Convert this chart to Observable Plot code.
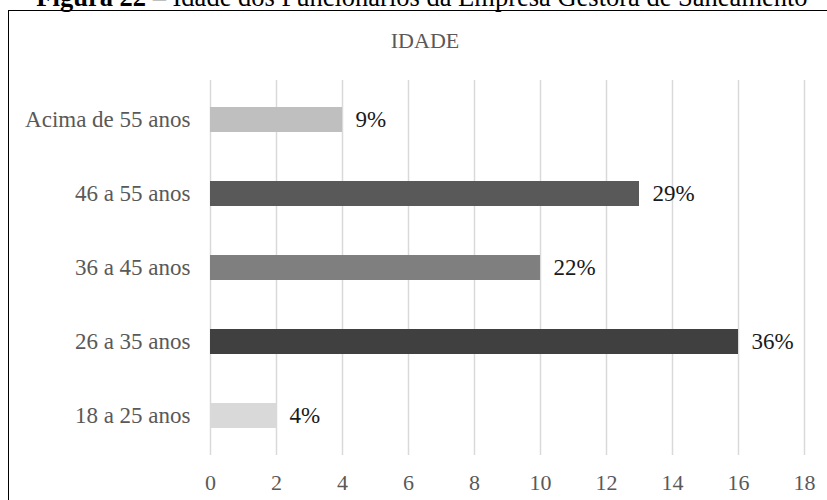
<!DOCTYPE html>
<html>
<head>
<meta charset="utf-8">
<script src="https://cdn.jsdelivr.net/npm/d3@7"></script>
<script src="https://cdn.jsdelivr.net/npm/@observablehq/plot@0.6"></script>
<style>
  html, body { margin: 0; padding: 0; background: #fff; }
  #page { position: relative; width: 827px; height: 500px; overflow: hidden; background: #fff; }
  #caption {
    position: absolute; left: 0; width: 844px; top: -16.5px; text-align: center;
    font-family: "Liberation Serif", "Times New Roman", serif; font-size: 26.5px; line-height: 26.5px;
    color: #000; white-space: nowrap;
  }
  #box {
    position: absolute; left: 8px; top: 10px; width: 900px; height: 600px;
    border: 1.75px solid #000; box-sizing: border-box;
  }
  #title {
    position: absolute; left: 0; width: 850px; top: 30px; text-align: center;
    font-family: "Liberation Serif", "Times New Roman", serif; font-size: 22px; line-height: 22px;
    color: #595959;
  }
  #chart { position: absolute; left: 0; top: 0; }
</style>
</head>
<body>
<div id="page">
  <div id="caption"><b>Figura 22</b> – Idade dos Funcionários da Empresa Gestora de Saneamento</div>
  <div id="box"></div>
  <div id="title">IDADE</div>
  <div id="chart"></div>
</div>
<script>
// Age groups, top to bottom
const categories = ["Acima de 55 anos", "46 a 55 anos", "36 a 45 anos", "26 a 35 anos", "18 a 25 anos"];
// Number of employees per age group
const counts = [4, 13, 10, 16, 2];
// Share of employees per age group
const percentLabels = ["9%", "29%", "22%", "36%", "4%"];
// Bar fill per age group
const barColors = ["#bfbfbf", "#595959", "#7f7f7f", "#404040", "#d9d9d9"];
// Axis ticks
const xTicks = [0, 2, 4, 6, 8, 10, 12, 14, 16, 18];

const data = categories.map((c, i) => ({
  category: c, count: counts[i], label: percentLabels[i], color: barColors[i]
}));

const serif = "'Liberation Serif', 'Times New Roman', serif";

const chart = Plot.plot({
  width: 827,
  height: 500,
  marginLeft: 210,
  marginRight: 23,
  marginTop: 80,
  marginBottom: 45,
  style: { background: "transparent", fontFamily: serif },
  x: { domain: [0, 18], ticks: xTicks, label: null },
  y: { domain: categories, paddingInner: 0.663, paddingOuter: 0.357, label: null },
  marks: [
    Plot.ruleX(xTicks, { stroke: "#d9d9d9", strokeWidth: 1.5 }),
    Plot.barX(data, { y: "category", x: "count", fill: "color" }),
    Plot.text(data, {
      y: "category", x: "count", text: "label", dx: 13, textAnchor: "start",
      fontSize: 23, fill: "#1a1a1a"
    }),
    Plot.axisY({
      tickSize: 0, tickPadding: 20, fontSize: 23, color: "#595959", label: null
    }),
    Plot.axisX({
      ticks: xTicks, tickSize: 0, tickPadding: 19, fontSize: 22, color: "#595959",
      label: null, tickFormat: d => String(d)
    })
  ]
});

document.getElementById("chart").appendChild(chart);
</script>
</body>
</html>
